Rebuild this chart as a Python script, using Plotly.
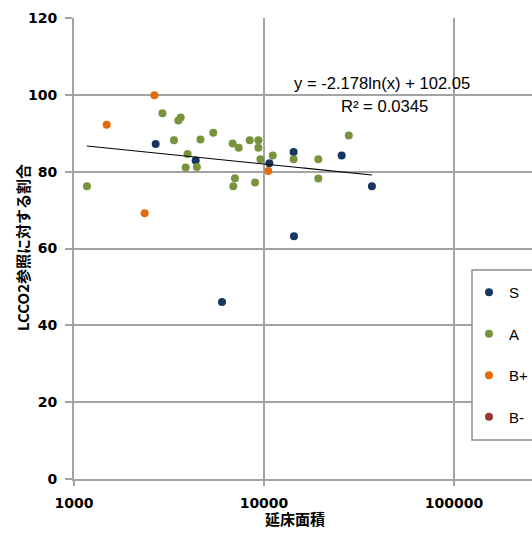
import numpy as np
import plotly.graph_objects as go

# ---- data ----
s_x = [2690, 4370, 6010, 10670, 14320, 14380, 25640, 36980]
s_y = [87.2, 82.9, 46.1, 82.2, 85.1, 63.2, 84.2, 76.2]

a_x = [1170, 2920, 3540, 3645, 3360, 4630, 5410, 6840, 7360, 8410, 9340, 9340,
       9580, 3960, 3870, 4435, 7030, 6890, 8970, 11120, 14320, 19310, 27940, 19310]
a_y = [76.2, 95.2, 93.3, 94.1, 88.2, 88.4, 90.1, 87.3, 86.2, 88.2, 88.2, 86.2,
       83.2, 84.6, 81.1, 81.2, 78.3, 76.2, 77.2, 84.2, 83.2, 83.2, 89.4, 78.2]

bp_x = [1486, 2355, 2649, 10540]
bp_y = [92.2, 69.2, 99.9, 80.2]

# B- has no visible points (placeholder keeps its legend entry)
bm_x = [None]
bm_y = [None]

series_names = ["S", "A", "B+", "B-"]
series_colors = ["#17375E", "#77933C", "#E36C09", "#953735"]

# trendline coefficients (as labelled): y = a*ln(x) + b
trend_a = -2.178
trend_b = 102.05
trend_label = "y = -2.178ln(x) + 102.05"
r2_label = "R² = 0.0345"

x_tickvals = [1000, 10000, 100000]
x_ticktext = ["1000", "10000", "100000"]
y_tickvals = [0, 20, 40, 60, 80, 100, 120]

x_title = "延床面積"
y_title = "LCCO2参照に対する割合"

# ---- figure ----
W, H = 532, 536
ml, mr, mt, mb = 74, 0, 18, 57
pw, ph = W - ml - mr, H - mt - mb

def px_x(p):
    return (p - ml) / pw

def px_y(p):
    return (H - mb - p) / ph

fig = go.Figure()

all_x = s_x + a_x + bp_x
tx = np.geomspace(min(all_x), max(all_x), 200)
ty = trend_a * np.log(tx) + trend_b

xs = [s_x, a_x, bp_x, bm_x]
ys = [s_y, a_y, bp_y, bm_y]
for name, col, x, y in zip(series_names, series_colors, xs, ys):
    fig.add_trace(go.Scatter(x=x, y=y, mode="markers", name=name,
                             legendgroup=name,
                             marker=dict(size=8, color=col),
                             showlegend=True))

fig.add_trace(go.Scatter(x=tx, y=ty, mode="lines", showlegend=False,
                         line=dict(color="black", width=1.1)))

grid = "#a3a3a3"
tickfont = dict(family="DejaVu Sans", size=14, color="black", weight="bold")

fig.update_xaxes(type="log", range=[3, 3 + pw / 190.0],
                 tickvals=x_tickvals, ticktext=x_ticktext,
                 showgrid=True, gridcolor=grid, gridwidth=2,
                 showline=True, linecolor=grid, linewidth=2,
                 ticks="outside", ticklen=5, tickcolor=grid, tickwidth=1.5,
                 ticklabelstandoff=5,
                 tickfont=tickfont, zeroline=False)
fig.update_yaxes(range=[0, 120], tickvals=y_tickvals,
                 showgrid=True, gridcolor=grid, gridwidth=2,
                 showline=True, linecolor=grid, linewidth=2,
                 ticks="outside", ticklen=7, tickcolor=grid, tickwidth=1.5,
                 ticklabelstandoff=5,
                 tickfont=tickfont, zeroline=False)

ann_font = dict(family="Liberation Sans", size=16.6, color="black")
titlefont = dict(family="Noto Sans CJK JP", size=15, color="black", weight="bold")

fig.update_layout(
    width=W, height=H,
    margin=dict(l=ml, r=mr, t=mt, b=mb, autoexpand=False),
    plot_bgcolor="white", paper_bgcolor="white",
    showlegend=True,
    legend=dict(x=px_x(477), y=px_y(276), xanchor="left", yanchor="top",
                bgcolor="rgba(0,0,0,0)", borderwidth=0,
                traceorder="grouped", tracegroupgap=19,
                font=dict(family="Liberation Sans", size=15, color="black"),
                itemwidth=30, indentation=-8),
    shapes=[dict(type="rect", xref="paper", yref="paper",
                 x0=px_x(472), x1=px_x(560), y0=px_y(440), y1=px_y(270),
                 line=dict(color="#8c8c8c", width=1.5), fillcolor="white",
                 layer="above")],
    annotations=[
        dict(text=trend_label, xref="paper", yref="paper",
             x=px_x(382), y=px_y(83), xanchor="center", yanchor="middle",
             showarrow=False, font=ann_font),
        dict(text=r2_label, xref="paper", yref="paper",
             x=px_x(384), y=px_y(106), xanchor="center", yanchor="middle",
             showarrow=False, font=ann_font),
        dict(text=x_title, xref="paper", yref="paper",
             x=px_x(295), y=px_y(518), xanchor="center", yanchor="middle",
             showarrow=False, font=titlefont),
        dict(text=y_title, xref="paper", yref="paper",
             x=px_x(22), y=px_y(248), xanchor="center", yanchor="middle",
             textangle=-90, showarrow=False, font=titlefont),
    ],
)

fig.write_html("out.html",
               config={"displayModeBar": False},
               post_script="document.body.style.margin='0';"
                           "document.body.style.overflow='hidden';")
